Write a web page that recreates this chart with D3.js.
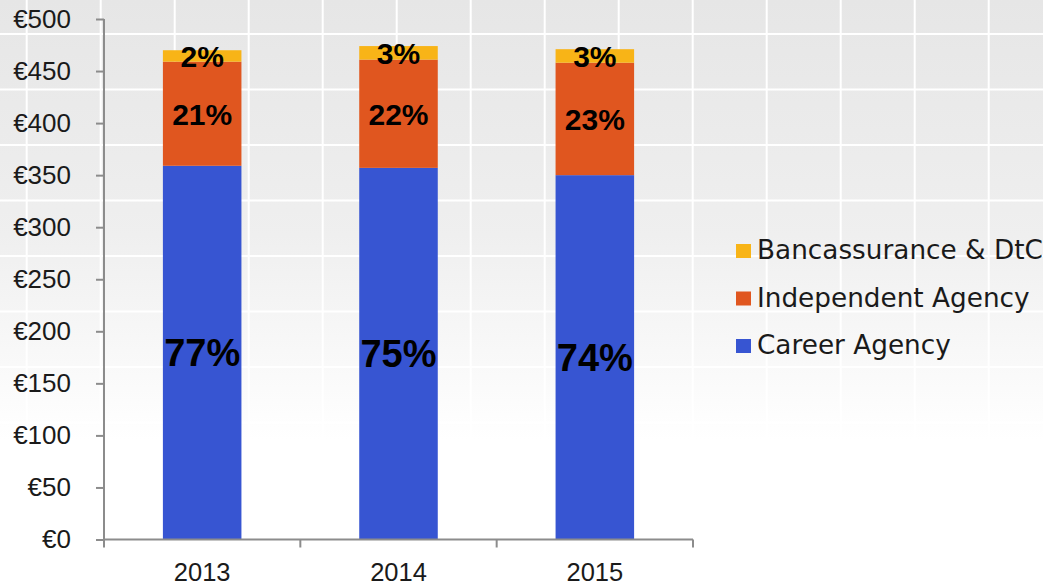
<!DOCTYPE html>
<html>
<head>
<meta charset="utf-8">
<script src="https://cdn.jsdelivr.net/npm/d3@7"></script>
<style>
  html, body { margin: 0; padding: 0; background: #fff; }
  svg { display: block; }
</style>
</head>
<body>
<svg id="chart" width="1043" height="587"></svg>
<script>
// data (EUR, stacked)
const years = ["2013", "2014", "2015"];
const career = [359, 357, 350];
const independent = [100, 104, 108];
const bancassurance = [11, 13, 13];
// share labels as printed on the bars
const careerShare = ["77%", "75%", "74%"];
const independentShare = ["21%", "22%", "23%"];
const bancaShare = ["2%", "3%", "3%"];
const seriesNames = ["Career Agency", "Independent Agency", "Bancassurance & DtC"];
const seriesColors = ["#3755d2", "#e0561f", "#f8b417"];
const yTicks = [0, 50, 100, 150, 200, 250, 300, 350, 400, 450, 500];

const W = 1043, H = 587;
const SANS = "'Liberation Sans', Arial, sans-serif";
const svg = d3.select("#chart");

// slide background: grey-to-white gradient with a white grid on top
const defs = svg.append("defs");
const grad = defs.append("linearGradient").attr("id", "bg")
    .attr("x1", 0).attr("y1", 0).attr("x2", 0).attr("y2", 1);
grad.append("stop").attr("offset", "0%").attr("stop-color", "#e6e6e6");
grad.append("stop").attr("offset", "40%").attr("stop-color", "#efefef");
grad.append("stop").attr("offset", "75%").attr("stop-color", "#ffffff");
grad.append("stop").attr("offset", "100%").attr("stop-color", "#ffffff");
svg.append("rect").attr("width", W).attr("height", H).attr("fill", "url(#bg)");

const grid = svg.append("g").attr("stroke", "#fff").attr("stroke-width", 2);
d3.range(26.7, W, 74).forEach(x => {
    grid.append("line").attr("x1", x).attr("x2", x).attr("y1", 0).attr("y2", H);
});
d3.range(34, H, 55.5).forEach(y => {
    grid.append("line").attr("x1", 0).attr("x2", W).attr("y1", y).attr("y2", y);
});

// scales
const x = d3.scaleBand().domain(years).range([104, 693])
    .paddingInner(0.6).paddingOuter(0.3);
const y = d3.scaleLinear().domain([0, 500]).range([539.5, 19]);

// stacked bars
const rows = years.map((yr, i) => ({
    year: yr,
    career: career[i],
    independent: independent[i],
    banca: bancassurance[i]
}));
const keys = ["career", "independent", "banca"];
const shares = { career: careerShare, independent: independentShare, banca: bancaShare };
const stack = d3.stack().keys(keys)(rows);

const layers = svg.append("g").selectAll("g").data(stack).join("g")
    .attr("fill", (d, i) => seriesColors[i]);
layers.selectAll("rect").data(d => d).join("rect")
    .attr("x", d => x(d.data.year))
    .attr("width", x.bandwidth())
    .attr("y", d => y(d[1]))
    .attr("height", d => y(d[0]) - y(d[1]));

// labels in the segments
stack.forEach(layer => {
    const big = layer.key === "career";
    svg.append("g").selectAll("text").data(layer).join("text")
        .attr("x", d => x(d.data.year) + x.bandwidth() / 2)
        .attr("y", d => (y(d[0]) + y(d[1])) / 2)
        .attr("dy", "0.36em")
        .attr("text-anchor", "middle")
        .style("font-family", SANS)
        .style("font-weight", "bold")
        .style("font-size", (big ? 38 : 30) + "px")
        .attr("fill", "#000")
        .text((d, i) => shares[layer.key][i]);
});

// y axis
const yAxis = svg.append("g").attr("transform", "translate(104,0)")
    .call(d3.axisLeft(y).tickValues(yTicks).tickSize(8).tickPadding(25)
        .tickFormat(d => "€" + d));
yAxis.select(".domain").attr("stroke", "#8c8c8c").attr("stroke-width", 2)
    .attr("d", "M0," + y(500) + "V" + y(0));
yAxis.selectAll(".tick line").attr("stroke", "#8c8c8c").attr("stroke-width", 2);
yAxis.selectAll(".tick text").attr("fill", "#1a1a1a")
    .style("font-family", SANS).style("font-size", "26px");

// x axis: labels under the bars, ticks at the category boundaries
const xAxis = svg.append("g").attr("transform", "translate(0," + y(0) + ")")
    .call(d3.axisBottom(x).tickSize(0).tickPadding(23));
xAxis.select(".domain").attr("stroke", "#8c8c8c").attr("stroke-width", 2)
    .attr("d", "M104,0H693");
xAxis.selectAll(".tick text").attr("fill", "#1a1a1a")
    .style("font-family", SANS).style("font-size", "25.5px");
xAxis.selectAll(".bound").data(d3.range(years.length + 1)).join("line")
    .attr("class", "bound")
    .attr("x1", i => x.range()[0] + i * x.step())
    .attr("x2", i => x.range()[0] + i * x.step())
    .attr("y1", 0).attr("y2", 8)
    .attr("stroke", "#8c8c8c").attr("stroke-width", 2);

// legend (top entry is the top segment)
const legend = svg.append("g").attr("transform", "translate(736,259)");
const order = [2, 1, 0];
order.forEach((s, r) => {
    const g = legend.append("g").attr("transform", "translate(0," + r * 47.5 + ")");
    g.append("rect").attr("x", 0).attr("y", -15).attr("width", 15).attr("height", 14)
        .attr("fill", seriesColors[s]);
    g.append("text").attr("x", 21).attr("y", 0)
        .style("font-family", "'DejaVu Sans', sans-serif")
        .style("font-size", "26.3px")
        .attr("fill", "#1a1a1a")
        .text(seriesNames[s]);
});
</script>
</body>
</html>
